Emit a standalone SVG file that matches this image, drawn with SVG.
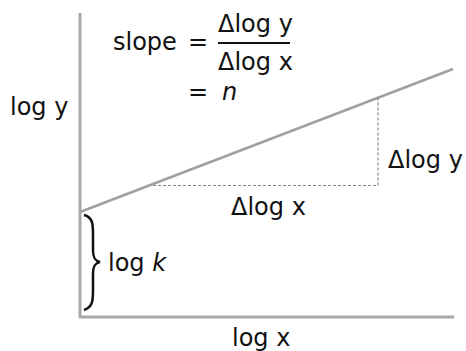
<svg xmlns="http://www.w3.org/2000/svg" width="466" height="351" viewBox="0 0 466 351">
<style>
text{font-family:"DejaVu Sans","Liberation Sans",sans-serif;font-size:24px;fill:#111}
.ax{stroke:#a8a8a8;stroke-width:3;fill:none}
.ln{stroke:#a0a0a0;stroke-width:2.5;fill:none}
.dash{stroke:#888;stroke-width:1.2;stroke-dasharray:3 2;fill:none}
.it{font-style:italic}
</style>
<rect width="466" height="351" fill="#fff"/>
<g id="connectors">
<line class="ax" x1="80" y1="13" x2="80" y2="317"/>
<line class="ax" x1="79" y1="317" x2="454" y2="317"/>
<line class="ln" x1="80" y1="212" x2="453" y2="69"/>
<polyline class="dash" points="153,185.5 378,185.5 378,97"/>
<line x1="218" y1="43" x2="290" y2="43" stroke="#111" stroke-width="2"/>
<path d="M84,215 C93,217 93,225 93,235 L93,250 C93,258 95,261 100,262 C95,263 93,266 93,274 L93,290 C93,300 93,307 84,310" stroke="#111" stroke-width="2.5" fill="none"/>
</g>
<g id="label-logy"><text x="10" y="115">log y</text></g>
<g id="label-slope">
<text x="113" y="50">slope</text>
<text x="188" y="50">=</text>
<text x="218" y="32">Δlog y</text>
<text x="218" y="70">Δlog x</text>
<text x="188" y="100">=</text>
<text x="222" y="100" class="it">n</text>
</g>
<g id="label-dlogy"><text x="388" y="168">Δlog y</text></g>
<g id="label-dlogx"><text x="231" y="215">Δlog x</text></g>
<g id="label-logk"><text x="108" y="271">log <tspan class="it">k</tspan></text></g>
<g id="label-logx"><text x="232" y="346">log x</text></g>
</svg>
